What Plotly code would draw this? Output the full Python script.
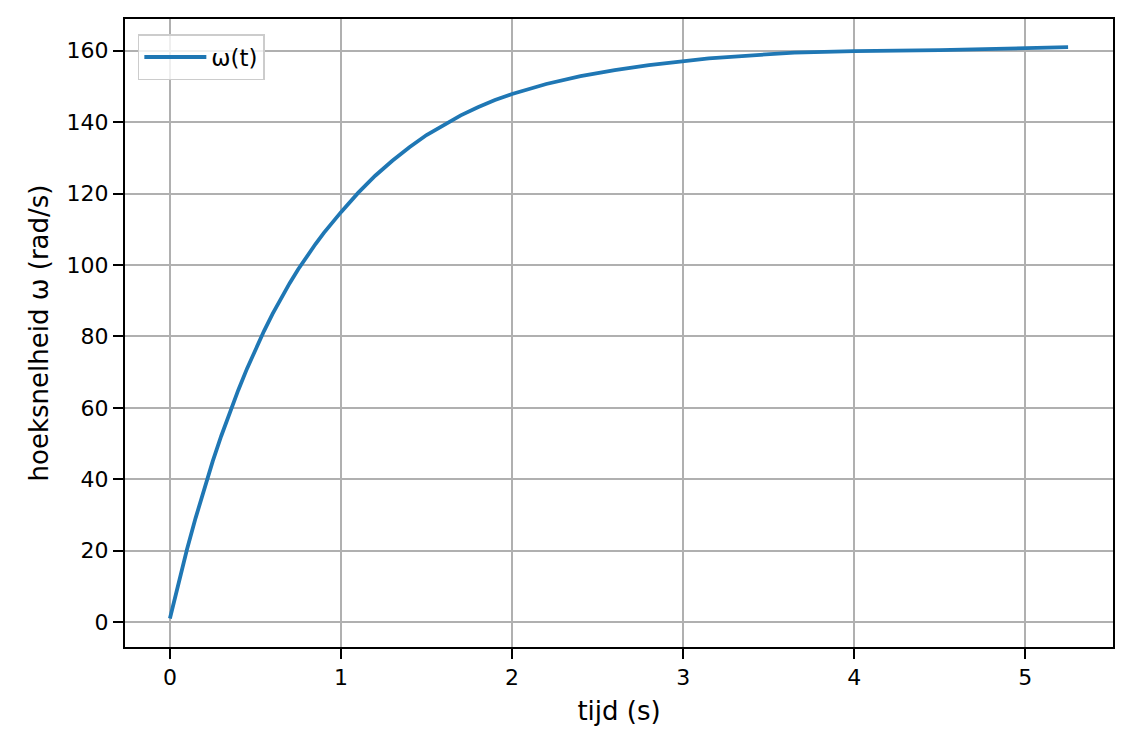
import plotly.graph_objects as go

# hoeksnelheid over tijd
tijd = [0, 0.05, 0.1, 0.15, 0.2, 0.25, 0.3, 0.35, 0.4, 0.45, 0.5,
        0.55, 0.6, 0.65, 0.7, 0.75, 0.8, 0.85, 0.9, 0.95, 1.0,
        1.1, 1.2, 1.3, 1.4, 1.5, 1.6, 1.7, 1.8, 1.9, 2.0,
        2.2, 2.4, 2.6, 2.8, 3.0, 3.15, 3.65, 4.0, 4.5, 5.0, 5.25]
omega = [1.0, 11.0, 20.4, 29.1, 37.3, 45.0, 52.1, 58.8, 65.0, 70.9, 76.4,
         81.5, 86.3, 90.7, 94.9, 98.8, 102.4, 105.8, 109.0, 112.0, 114.8,
         120.2, 125.0, 129.2, 133.0, 136.4, 139.3, 141.9, 144.2, 146.2, 147.9,
         150.7, 152.9, 154.6, 156.0, 157.1, 157.9, 159.5, 159.9, 160.2, 160.6, 161]

x_ticks = [0, 1, 2, 3, 4, 5]
y_ticks = [0, 20, 40, 60, 80, 100, 120, 140, 160]

fig = go.Figure()
fig.add_trace(go.Scatter(x=tijd, y=omega, mode="lines", name="ω(t)",
                         line=dict(color="#1f77b4", width=3.8)))

ax = dict(showline=True, linecolor="black", linewidth=2, mirror=True,
          ticks="outside", ticklen=10, tickwidth=2, tickcolor="black",
          showgrid=True, gridcolor="#b0b0b0", gridwidth=1.6, zeroline=False)

fig.update_xaxes(**ax, range=[-0.2625, 5.5125], tickvals=x_ticks,
                 title=dict(text="tijd (s)", standoff=12))
fig.update_yaxes(**ax, range=[-7.0, 168.9], tickvals=y_ticks,
                 title=dict(text="hoeksnelheid ω (rad/s)", standoff=10))

# pagina heeft 8px body-marge, dus figuur iets kleiner
fig.update_layout(
    width=1124, height=740,
    margin=dict(l=117, r=19, t=9, b=101),
    paper_bgcolor="white", plot_bgcolor="white",
    font=dict(family="DejaVu Sans", size=22, color="black"),
    showlegend=True,
    legend=dict(x=0.013, y=0.976, xanchor="left", yanchor="top",
                bgcolor="rgba(255,255,255,0.8)", bordercolor="#cccccc",
                borderwidth=1.5, itemwidth=62, font=dict(size=23)),
)

fig.write_html("out.html")
